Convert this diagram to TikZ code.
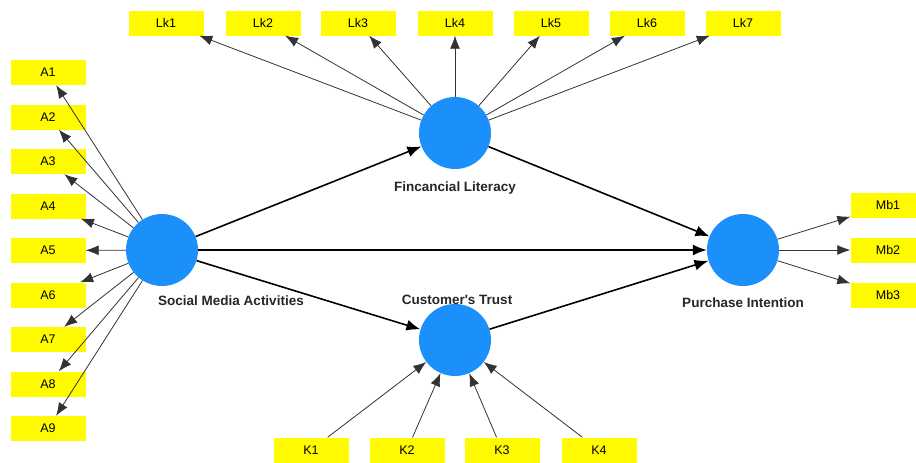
\documentclass[tikz,border=0pt]{standalone}
\usepackage{fontspec}
\setmainfont{Liberation Sans}
\usetikzlibrary{arrows.meta,positioning}
\definecolor{latentblue}{RGB}{28,144,250}
\definecolor{itemyellow}{RGB}{255,250,0}
\definecolor{loadgray}{RGB}{50,50,50}

\begin{document}
\begin{tikzpicture}[
    x=1pt, y=-1pt,
    latent/.style={circle, fill=latentblue, minimum size=72pt, inner sep=0pt},
    item/.style={rectangle, fill=itemyellow, minimum width=75pt, minimum height=25pt, inner sep=0pt, font=\fontsize{12.5}{14}\selectfont},
    caption/.style={font=\fontsize{13.5}{16}\selectfont\bfseries, text=black!85},
    loading/.style={-{Latex[length=13pt,width=10pt]}, draw=loadgray, line width=0.8pt},
    structural/.style={-{Latex[length=14pt,width=11pt]}, draw=black, line width=1.6pt}
]
\useasboundingbox (0,0) rectangle (916,463);

% latent variables
\node[latent] (sma) at (162,250) {};
\node[latent] (fl) at (455,133) {};
\node[latent] (ct) at (455,340) {};
\node[latent] (pi) at (743,250) {};

\node[caption] (smalabel) at (231,301) {Social Media Activities};
\node[caption] (fllabel) at (455,188) {Fincancial Literacy};
\node[caption] (ctlabel) at (457,300) {Customer\textquotesingle s Trust};
\node[caption] (pilabel) at (743,303) {Purchase Intention};

% indicators
\node[item] (a1) at (48,72.5) {A1};
\node[item] (a2) at (48,117) {A2};
\node[item] (a3) at (48,161.5) {A3};
\node[item] (a4) at (48,206) {A4};
\node[item] (a5) at (48,250.5) {A5};
\node[item] (a6) at (48,295) {A6};
\node[item] (a7) at (48,339.5) {A7};
\node[item] (a8) at (48,384) {A8};
\node[item] (a9) at (48,428.5) {A9};

\node[item] (lk1) at (166,23) {Lk1};
\node[item] (lk2) at (263,23) {Lk2};
\node[item] (lk3) at (358,23) {Lk3};
\node[item] (lk4) at (455,23) {Lk4};
\node[item] (lk5) at (551,23) {Lk5};
\node[item] (lk6) at (647,23) {Lk6};
\node[item] (lk7) at (743,23) {Lk7};

\node[item] (k1) at (311,450) {K1};
\node[item] (k2) at (407,450) {K2};
\node[item] (k3) at (502,450) {K3};
\node[item] (k4) at (599,450) {K4};

\node[item] (mb1) at (888,205) {Mb1};
\node[item] (mb2) at (888,250) {Mb2};
\node[item] (mb3) at (888,295) {Mb3};

% loadings
\draw[loading] (sma) -- (a1);
\draw[loading] (sma) -- (a2);
\draw[loading] (sma) -- (a3);
\draw[loading] (sma) -- (a4);
\draw[loading] (sma) -- (a5);
\draw[loading] (sma) -- (a6);
\draw[loading] (sma) -- (a7);
\draw[loading] (sma) -- (a8);
\draw[loading] (sma) -- (a9);

\draw[loading] (fl) -- (lk1);
\draw[loading] (fl) -- (lk2);
\draw[loading] (fl) -- (lk3);
\draw[loading] (fl) -- (lk4);
\draw[loading] (fl) -- (lk5);
\draw[loading] (fl) -- (lk6);
\draw[loading] (fl) -- (lk7);

\draw[loading] (k1) -- (ct);
\draw[loading] (k2) -- (ct);
\draw[loading] (k3) -- (ct);
\draw[loading] (k4) -- (ct);

\draw[loading] (pi) -- (mb1);
\draw[loading] (pi) -- (mb2);
\draw[loading] (pi) -- (mb3);

% structural paths
\draw[structural] (sma) -- (fl);
\draw[structural] (sma) -- (pi);
\draw[structural] (sma) -- (ct);
\draw[structural] (fl) -- (pi);
\draw[structural] (ct) -- (pi);

\end{tikzpicture}
\end{document}
